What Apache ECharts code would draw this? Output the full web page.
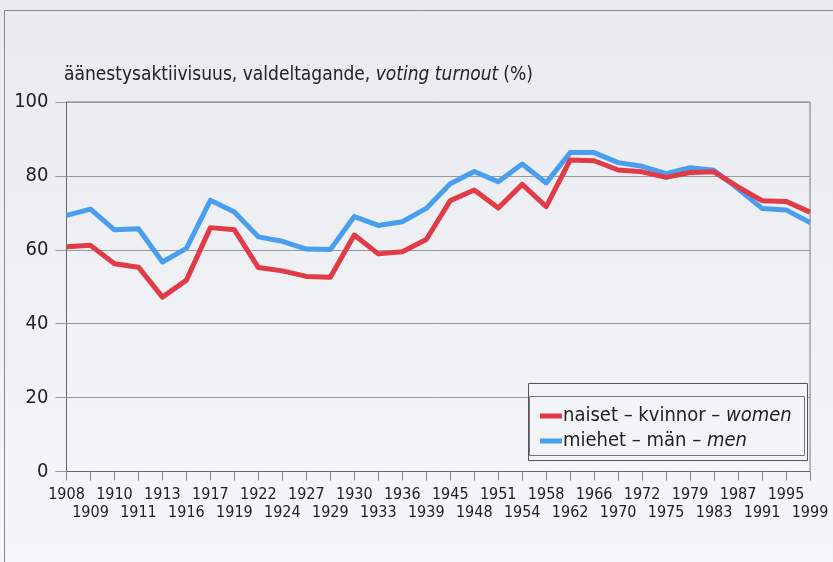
<!DOCTYPE html>
<html>
<head>
<meta charset="utf-8">
<script src="https://cdn.jsdelivr.net/npm/echarts@6/dist/echarts.min.js"></script>
<style>
  html, body { margin: 0; padding: 0; background: #fff; }
  #chart { width: 833px; height: 562px; }
</style>
</head>
<body>
<div id="chart"></div>
<script>
// election years (x axis categories)
const years = ['1908', '1909', '1910', '1911', '1913', '1916', '1917', '1919', '1922', '1924',
  '1927', '1929', '1930', '1933', '1936', '1939', '1945', '1948', '1951', '1954',
  '1958', '1962', '1966', '1970', '1972', '1975', '1979', '1983', '1987', '1991',
  '1995', '1999'];

// turnout, %
const women = [60.8, 61.2, 56.2, 55.3, 47.2, 51.8, 66.0, 65.4, 55.2, 54.3,
  52.8, 52.6, 64.0, 58.9, 59.5, 62.8, 73.3, 76.2, 71.3, 77.7,
  71.7, 84.3, 84.1, 81.6, 81.1, 79.6, 80.9, 81.1, 77.0, 73.3,
  73.1, 70.2];
const men = [69.3, 71.0, 65.4, 65.7, 56.7, 60.4, 73.4, 70.2, 63.5, 62.3,
  60.2, 60.1, 69.0, 66.6, 67.6, 71.2, 77.9, 81.2, 78.4, 83.2,
  78.1, 86.3, 86.3, 83.6, 82.6, 80.6, 82.2, 81.5, 76.5, 71.2,
  70.8, 67.4];

const womenName = 'naiset – kvinnor – women';
const menName = 'miehet – män – men';

const font = '"Liberation Sans Narrow", "DejaVu Sans Condensed", "Roboto Condensed", Roboto, sans-serif';
const textColor = '#222';

const chart = echarts.init(document.getElementById('chart'));

chart.setOption({
  animation: false,
  backgroundColor: {
    type: 'linear', x: 0, y: 0, x2: 0, y2: 1,
    colorStops: [{ offset: 0, color: '#e9ebf1' }, { offset: 1, color: '#f6f6f8' }]
  },
  title: {
    left: 59,
    top: 61,
    text: '{a|äänestysaktiivisuus, valdeltagande, }{i|voting turnout} {a|(%)}',
    textStyle: {
      rich: {
        a: { fontFamily: font, fontSize: 19, fontWeight: 'normal', color: textColor },
        i: { fontFamily: font, fontSize: 19, fontWeight: 'normal', color: textColor, fontStyle: 'italic' }
      }
    }
  },
  graphic: [
    // outer frame of the figure
    { type: 'line', shape: { x1: 4.5, y1: 10.5, x2: 833, y2: 10.5 }, style: { stroke: '#8a8a8a', lineWidth: 1 } },
    { type: 'line', shape: { x1: 4.5, y1: 10.5, x2: 4.5, y2: 562 }, style: { stroke: '#8a8a8a', lineWidth: 1 } },
    // legend box
    { type: 'rect', shape: { x: 528.5, y: 383.5, width: 279, height: 77 },
      style: { fill: '#f3f4f7', stroke: '#555', lineWidth: 1 }, z: 5 },
    { type: 'rect', shape: { x: 529.5, y: 396.5, width: 275, height: 59 },
      style: { fill: 'none', stroke: '#777', lineWidth: 1 }, z: 5 }
  ],
  legend: {
    orient: 'vertical',
    left: 535,
    top: 401,
    z: 10,
    itemWidth: 22,
    itemHeight: 5,
    itemGap: 5,
    icon: 'rect',
    data: [womenName, menName],
    formatter: name => name === womenName
      ? '{t|naiset – kvinnor – }{i|women}'
      : '{t|miehet – män – }{i|men}',
    textStyle: {
      padding: [0, 0, 0, -4],
      rich: {
        t: { fontFamily: font, fontSize: 20, color: textColor, lineHeight: 22 },
        i: { fontFamily: font, fontSize: 20, color: textColor, fontStyle: 'italic', lineHeight: 22 }
      }
    }
  },
  grid: {
    left: 66.5,
    right: 23,
    top: 102,
    bottom: 90.5,
    show: true,
    borderColor: '#777',
    borderWidth: 1,
    backgroundColor: 'transparent'
  },
  xAxis: {
    type: 'category',
    data: years,
    boundaryGap: false,
    axisLine: { lineStyle: { color: '#666', width: 1 } },
    axisTick: { length: 9, lineStyle: { color: '#888' }, interval: 0 },
    axisLabel: {
      interval: 0,
      margin: 14,
      color: textColor,
      fontFamily: font,
      fontSize: 16,
      lineHeight: 18,
      verticalAlign: 'top',
      formatter: (v, i) => (i % 2 === 1 ? '\n' + v : v)
    }
  },
  yAxis: {
    type: 'value',
    min: 0,
    max: 100,
    interval: 20,
    axisLine: { show: true, lineStyle: { color: '#666', width: 1 } },
    axisTick: { show: true, inside: false, length: 11, lineStyle: { color: '#999' } },
    splitLine: { lineStyle: { color: '#999', width: 1 } },
    axisLabel: { color: textColor, fontFamily: font, fontSize: 20, margin: 18 }
  },
  series: [
    {
      name: menName,
      type: 'line',
      data: men,
      symbol: 'none',
      color: '#4a9ef0',
      lineStyle: { width: 5, color: '#4a9ef0', join: 'round' },
      z: 2
    },
    {
      name: womenName,
      type: 'line',
      data: women,
      symbol: 'none',
      color: '#e13b47',
      lineStyle: { width: 5, color: '#e13b47', join: 'round' },
      z: 3
    }
  ]
});
</script>
</body>
</html>
